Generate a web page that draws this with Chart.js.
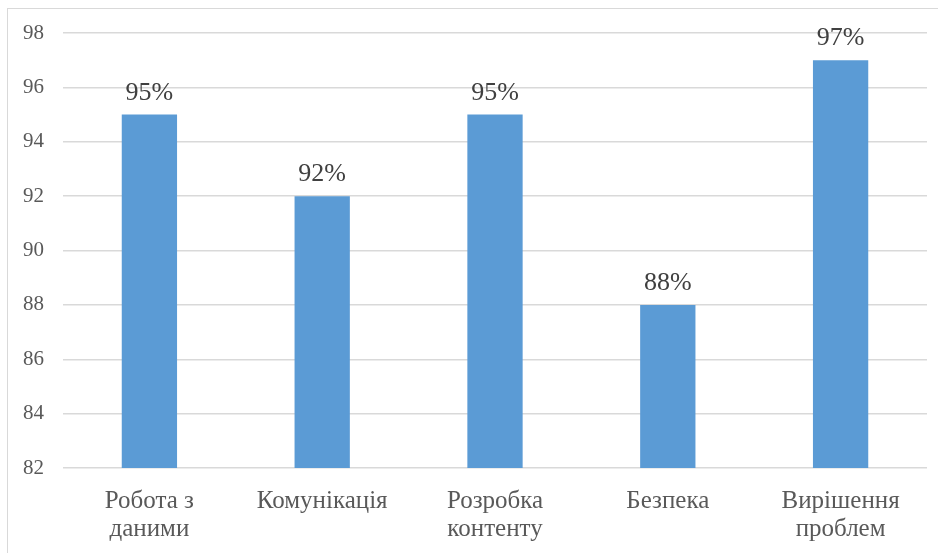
<!DOCTYPE html>
<html>
<head>
<meta charset="utf-8">
<script src="https://cdn.jsdelivr.net/npm/chart.js@4"></script>
<style>
  html, body { margin: 0; padding: 0; background: #fff; }
  #frame { position: absolute; left: 7px; top: 8px; width: 940px; height: 560px; border: 1px solid #d9d9d9; }
  #wrap { position: absolute; left: 0; top: 0; width: 938px; height: 553px; }
</style>
</head>
<body>
<div id="frame"></div>
<div id="wrap"><canvas id="skillsChart"></canvas></div>
<script>
var categories = [['Робота з', 'даними'], 'Комунікація', ['Розробка', 'контенту'], 'Безпека', ['Вирішення', 'проблем']];
var values = [95, 92, 95, 88, 97];
var yMin = 82;
var yMax = 98;
var yStep = 2;

var serif = '"Liberation Serif", "Times New Roman", serif';

// draws the "95%" labels above each bar
var valueLabels = {
  id: 'valueLabels',
  afterDatasetsDraw: function(chart) {
    var ctx = chart.ctx;
    var meta = chart.getDatasetMeta(0);
    ctx.save();
    ctx.font = '26px ' + serif;
    ctx.fillStyle = '#404040';
    ctx.textAlign = 'center';
    ctx.textBaseline = 'alphabetic';
    meta.data.forEach(function(bar, i) {
      ctx.fillText(values[i] + '%', bar.x, bar.y - 15);
    });
    ctx.restore();
  }
};

var ctx = document.getElementById('skillsChart').getContext('2d');
var chart = new Chart(ctx, {
  type: 'bar',
  data: {
    labels: categories,
    datasets: [{
      data: values,
      backgroundColor: '#5b9bd5',
      barPercentage: 0.64,
      categoryPercentage: 0.5
    }]
  },
  options: {
    responsive: true,
    maintainAspectRatio: false,
    animation: false,
    layout: { padding: { top: 33, right: 11, bottom: 0, left: 0 } },
    plugins: {
      legend: { display: false },
      tooltip: { enabled: false }
    },
    scales: {
      x: {
        grid: { display: false },
        border: { display: false },
        ticks: {
          color: '#595959',
          font: { family: serif, size: 25, lineHeight: 1.12 },
          padding: 11,
          maxRotation: 0,
          autoSkip: false
        },
        afterFit: function(scale) { scale.height = 85; }
      },
      y: {
        min: yMin,
        max: yMax,
        grid: { color: '#d9d9d9', drawTicks: false, lineWidth: 1.5 },
        border: { display: false },
        ticks: {
          stepSize: yStep,
          color: '#595959',
          font: { family: serif, size: 21 },
          padding: 19
        },
        afterFit: function(scale) { scale.width = 63; }
      }
    }
  },
  plugins: [valueLabels]
});
</script>
</body>
</html>
